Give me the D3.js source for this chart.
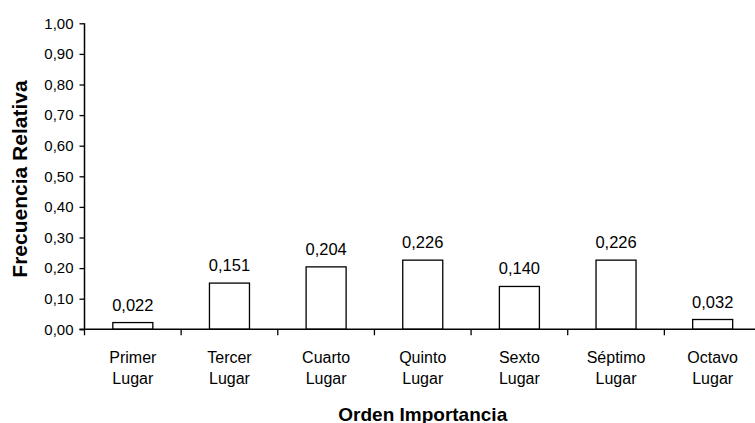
<!DOCTYPE html>
<html>
<head>
<meta charset="utf-8">
<script src="https://cdn.jsdelivr.net/npm/d3@7"></script>
<style>
  html, body { margin: 0; padding: 0; background: #fff; }
  svg { display: block; }
  text { font-family: "Liberation Sans", Arial, sans-serif; fill: #000; }
</style>
</head>
<body>
<svg id="chart" width="755" height="423"></svg>
<script>
const categories = [["Primer", "Lugar"], ["Tercer", "Lugar"], ["Cuarto", "Lugar"], ["Quinto", "Lugar"], ["Sexto", "Lugar"], ["Séptimo", "Lugar"], ["Octavo", "Lugar"]];
const values = [0.022, 0.151, 0.204, 0.226, 0.140, 0.226, 0.032];
const valueLabels = ["0,022", "0,151", "0,204", "0,226", "0,140", "0,226", "0,032"];
const yTicks = [0, 0.1, 0.2, 0.3, 0.4, 0.5, 0.6, 0.7, 0.8, 0.9, 1.0];
const xTitle = "Orden Importancia";
const yTitle = "Frecuencia Relativa";

const svg = d3.select("#chart");
const pLeft = 84.5, pRight = 761, pTop = 23.3, pBottom = 329.3;

const x = d3.scaleBand().domain(d3.range(categories.length)).range([pLeft, pRight])
  .paddingInner(0.586).paddingOuter(0.293);
const y = d3.scaleLinear().domain([0, 1]).range([pBottom, pTop]);
const fmt = v => v.toFixed(2).replace(".", ",");

// bars
svg.append("g").selectAll("rect").data(values).join("rect")
  .attr("x", (d, i) => x(i))
  .attr("y", d => y(d))
  .attr("width", x.bandwidth())
  .attr("height", d => y(0) - y(d))
  .attr("fill", "#fff")
  .attr("stroke", "#000")
  .attr("stroke-width", 1.3);

// value labels
svg.append("g").selectAll("text").data(values).join("text")
  .attr("x", (d, i) => x(i) + x.bandwidth() / 2)
  .attr("y", d => y(d) - 12)
  .attr("text-anchor", "middle")
  .attr("font-size", "16.5px")
  .text((d, i) => valueLabels[i]);

// y axis
const yAxis = d3.axisLeft(y).tickValues(yTicks).tickSize(5).tickPadding(6).tickFormat(fmt);
const gy = svg.append("g").attr("transform", `translate(${pLeft},0)`).call(yAxis);
gy.select(".domain").attr("stroke", "#000").attr("stroke-width", 1.5).attr("d", `M0,${pTop}V${pBottom}`);
gy.selectAll(".tick line").attr("stroke", "#000").attr("stroke-width", 1.3);
gy.selectAll(".tick text").attr("font-size", "15px").attr("font-family", "Liberation Sans, Arial, sans-serif").attr("fill", "#000");

// x axis line with boundary ticks
const step = x.step();
const boundaries = d3.range(categories.length + 1).map(i => pLeft + i * step);
const gx = svg.append("g");
gx.append("line").attr("x1", pLeft - 5).attr("x2", pRight).attr("y1", pBottom).attr("y2", pBottom)
  .attr("stroke", "#000").attr("stroke-width", 1.5);
gx.selectAll("line.tk").data(boundaries).join("line").attr("class", "tk")
  .attr("x1", d => d).attr("x2", d => d).attr("y1", pBottom).attr("y2", pBottom + 6)
  .attr("stroke", "#000").attr("stroke-width", 1.3);

// category labels
const cl = svg.append("g").selectAll("text").data(categories).join("text")
  .attr("text-anchor", "middle")
  .attr("font-size", "16px");
cl.each(function(d, i) {
  const t = d3.select(this);
  const cx = x(i) + x.bandwidth() / 2;
  t.append("tspan").attr("x", cx).attr("y", 362.7).text(d[0]);
  t.append("tspan").attr("x", cx).attr("y", 384.3).text(d[1]);
});

// titles
svg.append("text").attr("x", (pLeft + pRight) / 2).attr("y", 420.5)
  .attr("text-anchor", "middle").attr("font-size", "19px").attr("font-weight", "bold").text(xTitle);
svg.append("text").attr("transform", "translate(27,179) rotate(-90)")
  .attr("text-anchor", "middle").attr("font-size", "21px").attr("font-weight", "bold").text(yTitle);
</script>
</body>
</html>
